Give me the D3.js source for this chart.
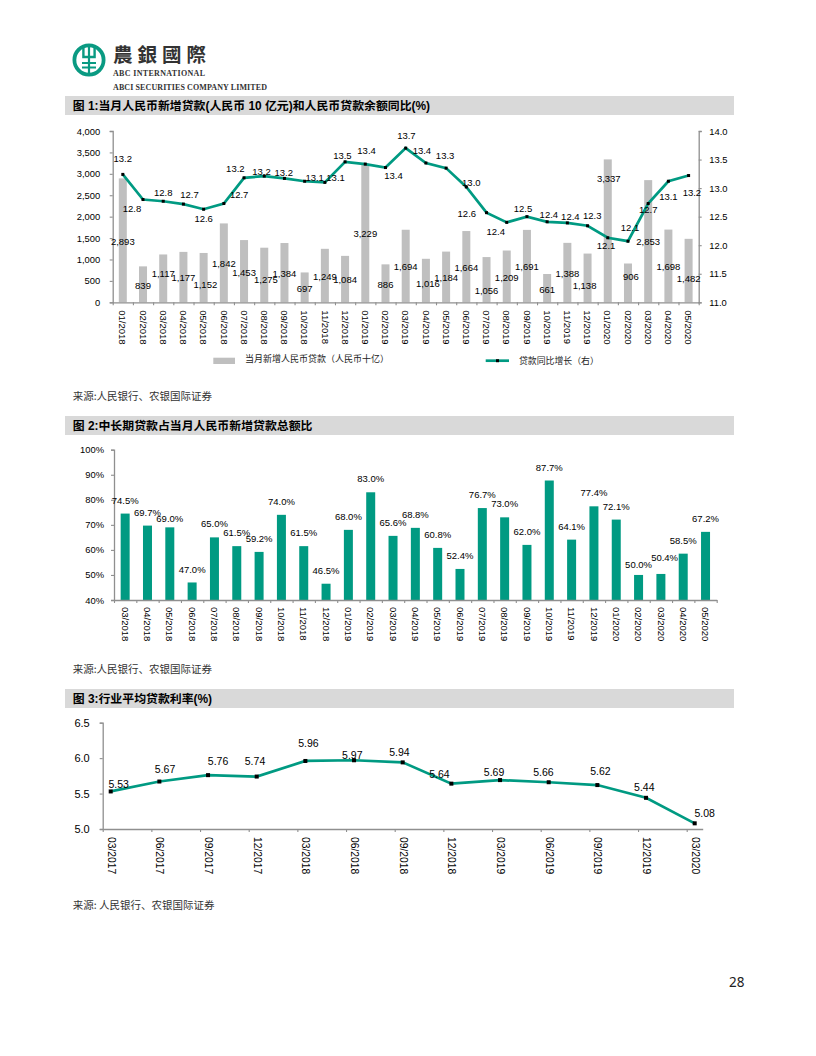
<!DOCTYPE html>
<html><head><meta charset="utf-8">
<script src="https://cdnjs.cloudflare.com/ajax/libs/d3/7.8.5/d3.min.js"></script>
<style>
html,body{margin:0;padding:0;background:#fff}
svg{display:block}
text{font-family:"Liberation Sans",Arial,"Noto Sans CJK SC",sans-serif;fill:#000}
.cjk{font-family:"Noto Sans CJK SC",sans-serif}
</style></head><body><svg id="page" width="816" height="1056"></svg>
<script>
// ---------- data ----------
const months1 = ["01/2018","02/2018","03/2018","04/2018","05/2018","06/2018","07/2018","08/2018","09/2018","10/2018","11/2018","12/2018","01/2019","02/2019","03/2019","04/2019","05/2019","06/2019","07/2019","08/2019","09/2019","10/2019","11/2019","12/2019","01/2020","02/2020","03/2020","04/2020","05/2020"];
const newLoans = [2893,839,1117,1177,1152,1842,1453,1275,1384,697,1249,1084,3229,886,1694,1016,1184,1664,1056,1209,1691,661,1388,1138,3337,906,2853,1698,1482];
const loanGrowth = [13.24,12.80,12.77,12.72,12.63,12.73,13.18,13.21,13.17,13.12,13.10,13.46,13.42,13.36,13.70,13.44,13.35,13.02,12.57,12.40,12.50,12.41,12.39,12.34,12.13,12.07,12.73,13.12,13.22];
const months2 = ["03/2018","04/2018","05/2018","06/2018","07/2018","08/2018","09/2018","10/2018","11/2018","12/2018","01/2019","02/2019","03/2019","04/2019","05/2019","06/2019","07/2019","08/2019","09/2019","10/2019","11/2019","12/2019","01/2020","02/2020","03/2020","04/2020","05/2020"];
const longTermShare = [74.5,69.7,69.0,47.0,65.0,61.5,59.2,74.0,61.5,46.5,68.0,83.0,65.6,68.8,60.8,52.4,76.7,73.0,62.0,87.7,64.1,77.4,72.1,50.0,50.4,58.5,67.2];
const quarters = ["03/2017","06/2017","09/2017","12/2017","03/2018","06/2018","09/2018","12/2018","03/2019","06/2019","09/2019","12/2019","03/2020"];
const lendingRate = [5.53,5.67,5.76,5.74,5.96,5.97,5.94,5.64,5.69,5.66,5.62,5.44,5.08];
const titles = ["图 1:当月人民币新增贷款(人民币 10 亿元)和人民币贷款余额同比(%)","图 2:中长期贷款占当月人民币新增贷款总额比","图 3:行业平均贷款利率(%)"];
const legendNames = ["当月新增人民币贷款（人民币十亿）","贷款同比增长（右）"];
const sources = ["来源:人民银行、农银国际证券","来源:人民银行、农银国际证券","来源: 人民银行、农银国际证券"];

// ---------- label nudges (px, placement only) ----------
const barLabelNudge1 = [[0,63],[0,19.3],[0,19.5],[0,26],[1.7,31.7],[0,40.3],[0,33],[1.7,32.3],[0,30.7],[0,16.3],[0,28.2],[0,24],[0,69.7],[0,20.3],[0,37],[2,25],[0,26],[0,36.7],[0,33.7],[0,27],[0,36.7],[0,15.7],[0,30.7],[-3,32],[1,19],[3,13],[0,61.3],[0,37],[0,40]];
const lineLabelNudge1 = [[0,-15.7],[-11,9],[0,-8.7],[6,-9.7],[0,9.3],[15.3,-9],[-8.7,-9],[-2.7,-5],[-0.7,-6],[10,-4],[10.7,-5.3],[-2.7,-6.7],[1.3,-13.3],[8,8.3],[0.7,-12.7],[-4,-12],[-1,-12.7],[5,-4.3],[-19.7,1],[-11,9.3],[-4,-8],[1.7,-7.7],[3,-6.7],[4.7,-10],[-1.7,7.7],[2,-13.7],[0,6],[0,15.7],[3.3,17.3]];
const barLabelNudge2 = {2:[0,-8.3],23:[0,-10.3],24:[3.7,-16.3]};
const lineLabelNudge3 = [[8,-7.7],[5.7,-12.7],[10,-13.7],[-1.7,-15.7],[3,-17.7],[-1.7,-4.7],[-3.3,-9.7],[-12,-9.3],[-6,-7.7],[-5.3,-9.7],[3,-13.7],[-1.7,-10.7],[10,-9.7]];

// ---------- style ----------
const GREEN="#009a82", GREY="#bfbfbf", AXIS="#8f8f8f";
const svg=d3.select("#page");

function styleAxis(g){
  g.selectAll("path.domain").attr("stroke",AXIS).attr("stroke-width",1.3);
  g.selectAll(".tick line").attr("stroke",AXIS).attr("stroke-width",1.1);
  g.selectAll("text").attr("fill","#000");
}
function bottomAxis(y,x0,x1,edgeMax,ticks,labelScale,fs,pad){
  const edge=d3.scaleLinear().domain([0,edgeMax]).range([x0,x1]);
  svg.append("g").attr("transform",`translate(0,${y})`)
    .call(d3.axisBottom(edge).tickValues(ticks).tickSize(3).tickSizeOuter(0).tickFormat(""))
    .call(styleAxis);
  svg.append("g").attr("transform",`translate(0,${y})`)
    .call(d3.axisBottom(labelScale).tickSize(0))
    .call(g=>{g.select("path.domain").remove();
      g.selectAll("text").attr("transform","rotate(90)").attr("x",pad).attr("y",0).attr("dy",".35em")
       .attr("text-anchor","start").style("font-size",fs+"px").style("font-family",'"Liberation Sans",Arial,sans-serif').attr("fill","#000");});
}
function header(i,y){
  svg.append("rect").attr("x",65).attr("y",y).attr("width",669).attr("height",19).attr("fill","#d9d9d9");
  svg.append("text").attr("x",72.7).attr("y",y+13.6).attr("font-size",11.9).attr("font-weight",700).text(titles[i]);
}
function source(i,y){
  svg.append("text").attr("class","cjk").attr("x",72.7).attr("y",y).attr("font-size",10.5).style("fill","#333").text(sources[i]);
}
function labels(data,cx,cy,nudge,fmt,fs){
  svg.append("g").selectAll("text").data(data).join("text")
    .attr("x",(d,i)=>cx(i)+nudge(i)[0]).attr("y",(d,i)=>cy(d,i)+nudge(i)[1]).attr("dy",".36em")
    .attr("text-anchor","middle").attr("font-size",fs).text(fmt);
}
function markers(data,cx,cy,s){
  svg.append("g").selectAll("rect").data(data).join("rect")
    .attr("x",(d,i)=>cx(i)-s/2).attr("y",(d,i)=>cy(d,i)-s/2).attr("width",s).attr("height",s).attr("fill","#000");
}

// ---------- logo ----------
(function(){
  const g=svg.append("g").attr("transform","translate(89,60)");
  g.append("circle").attr("r",14.6).attr("fill","none").attr("stroke","#0a9a82").attr("stroke-width",3.8);
  g.append("path").attr("d","M-5.6,-15 V-3 H5.6 V-15").attr("fill","none").attr("stroke","#0a9a82").attr("stroke-width",2.4);
  g.append("path").attr("d","M0,-15 V15 M-7,3 H7 M-7,7.5 H7").attr("fill","none").attr("stroke","#0a9a82").attr("stroke-width",2.2);
  svg.append("text").attr("x",113).attr("y",62).style("font-family",'"Noto Sans CJK TC",serif').attr("font-size",19.5).attr("font-weight",700).style("fill","#333").attr("letter-spacing",5).text("農銀國際");
  svg.append("text").attr("x",113).attr("y",75.6).style("font-family",'"Liberation Serif",serif').attr("font-size",8).attr("font-weight",700).style("fill","#333").attr("textLength",92).text("ABC INTERNATIONAL");
  svg.append("text").attr("x",113).attr("y",90).style("font-family",'"Liberation Serif",serif').attr("font-size",8).attr("font-weight",700).style("fill","#333").attr("textLength",154).text("ABCI SECURITIES COMPANY LIMITED");
})();

// ---------- chart 1 ----------
(function(){
  header(0,96);
  const L=112.7,R=698.7,T=131,B=302.3;
  const n=months1.length;
  const x=d3.scaleBand().domain(months1).range([L,R]);
  const c=i=>x(months1[i])+x.bandwidth()/2;
  const yL=d3.scaleLinear().domain([0,4000]).range([B,T]);
  const yR=d3.scaleLinear().domain([11,14]).range([B,T]);
  svg.append("g").selectAll("rect").data(newLoans).join("rect")
    .attr("x",(d,i)=>c(i)-4).attr("width",8).attr("y",d=>yL(d)).attr("height",d=>B-yL(d)).attr("fill",GREY);
  bottomAxis(B,L,R,n,d3.range(n+1),x,9.5,8);
  svg.append("g").attr("transform",`translate(${L},0)`)
    .call(d3.axisLeft(yL).tickValues(d3.range(0,4001,500)).tickSize(3).tickSizeOuter(3).tickPadding(9.5).tickFormat(d3.format(",")))
    .call(styleAxis).call(g=>g.selectAll("text").style("font-size","9.4px"));
  svg.append("g").attr("transform",`translate(${R},0)`)
    .call(d3.axisRight(yR).tickValues(d3.range(11,14.01,.5)).tickSize(3).tickSizeOuter(3).tickPadding(7.5).tickFormat(d3.format(".1f")))
    .call(styleAxis).call(g=>g.selectAll("text").style("font-size","9.4px"));
  svg.append("path").datum(loanGrowth).attr("fill","none").attr("stroke",GREEN).attr("stroke-width",2.7)
    .attr("d",d3.line().x((d,i)=>c(i)).y(d=>yR(d)));
  markers(loanGrowth,c,d=>yR(d),3);
  labels(newLoans,c,d=>yL(d),i=>barLabelNudge1[i],d3.format(","),9.5);
  labels(loanGrowth,c,d=>yR(d),i=>lineLabelNudge1[i],d3.format(".1f"),9.5);
  // legend
  svg.append("rect").attr("x",213.3).attr("y",357.7).attr("width",21.7).attr("height",6.3).attr("fill",GREY);
  svg.append("text").attr("class","cjk").attr("x",245).attr("y",362).attr("font-size",9).style("fill","#222").text(legendNames[0]);
  svg.append("line").attr("x1",485.7).attr("x2",509).attr("y1",360.7).attr("y2",360.7).attr("stroke",GREEN).attr("stroke-width",2.7);
  svg.append("rect").attr("x",496).attr("y",359.2).attr("width",3).attr("height",3).attr("fill","#000");
  svg.append("text").attr("class","cjk").attr("x",519).attr("y",363.5).attr("font-size",8.9).style("fill","#222").text(legendNames[1]);
  source(0,399.5);
})();

// ---------- chart 2 ----------
(function(){
  header(1,416);
  const L=114,R=716.7,T=449.7,B=600;
  const n=months2.length;
  const x=d3.scaleBand().domain(months2).range([L,R]);
  const c=i=>x(months2[i])+x.bandwidth()/2;
  const y=d3.scaleLinear().domain([40,100]).range([B,T]);
  svg.append("g").selectAll("rect").data(longTermShare).join("rect")
    .attr("x",(d,i)=>c(i)-4.5).attr("width",9).attr("y",d=>y(d)).attr("height",d=>B-y(d)).attr("fill",GREEN);
  bottomAxis(B,L,R,n,d3.range(n+1),x,9.5,7);
  svg.append("g").attr("transform",`translate(${L},0)`)
    .call(d3.axisLeft(y).tickValues(d3.range(40,101,10)).tickSize(3).tickSizeOuter(3).tickPadding(7).tickFormat(d=>d+"%"))
    .call(styleAxis).call(g=>g.selectAll("text").style("font-size","9.4px"));
  labels(longTermShare,c,d=>y(d),i=>barLabelNudge2[i]||[0,-13.3],d=>d.toFixed(1)+"%",9.5);
  source(1,672.5);
})();

// ---------- chart 3 ----------
(function(){
  header(2,689);
  const L=102.7,R=702.7,T=722.7,B=829;
  const x=d3.scalePoint().domain(quarters).range([110.7,694.7]);
  const c=i=>x(quarters[i]);
  const y=d3.scaleLinear().domain([5,6.5]).range([B,T]);
  bottomAxis(B,L,R,(R-L)/((694.7-110.7)/12),d3.range(13),x,10.3,8);
  svg.append("g").attr("transform",`translate(${L},0)`)
    .call(d3.axisLeft(y).tickValues([5,5.5,6,6.5]).tickSize(3).tickSizeOuter(3).tickPadding(10).tickFormat(d3.format(".1f")))
    .call(styleAxis).call(g=>g.selectAll("text").style("font-size","11px"));
  svg.append("path").datum(lendingRate).attr("fill","none").attr("stroke",GREEN).attr("stroke-width",2.7)
    .attr("d",d3.line().x((d,i)=>c(i)).y(d=>y(d)));
  markers(lendingRate,c,d=>y(d),4);
  labels(lendingRate,c,d=>y(d),i=>lineLabelNudge3[i],d3.format(".2f"),10.5);
  source(2,909);
})();

svg.append("text").attr("x",729).attr("y",986.5).style("font-family",'"Noto Sans",sans-serif').attr("font-size",13.5).style("fill","#222").text("28");
</script></body></html>
